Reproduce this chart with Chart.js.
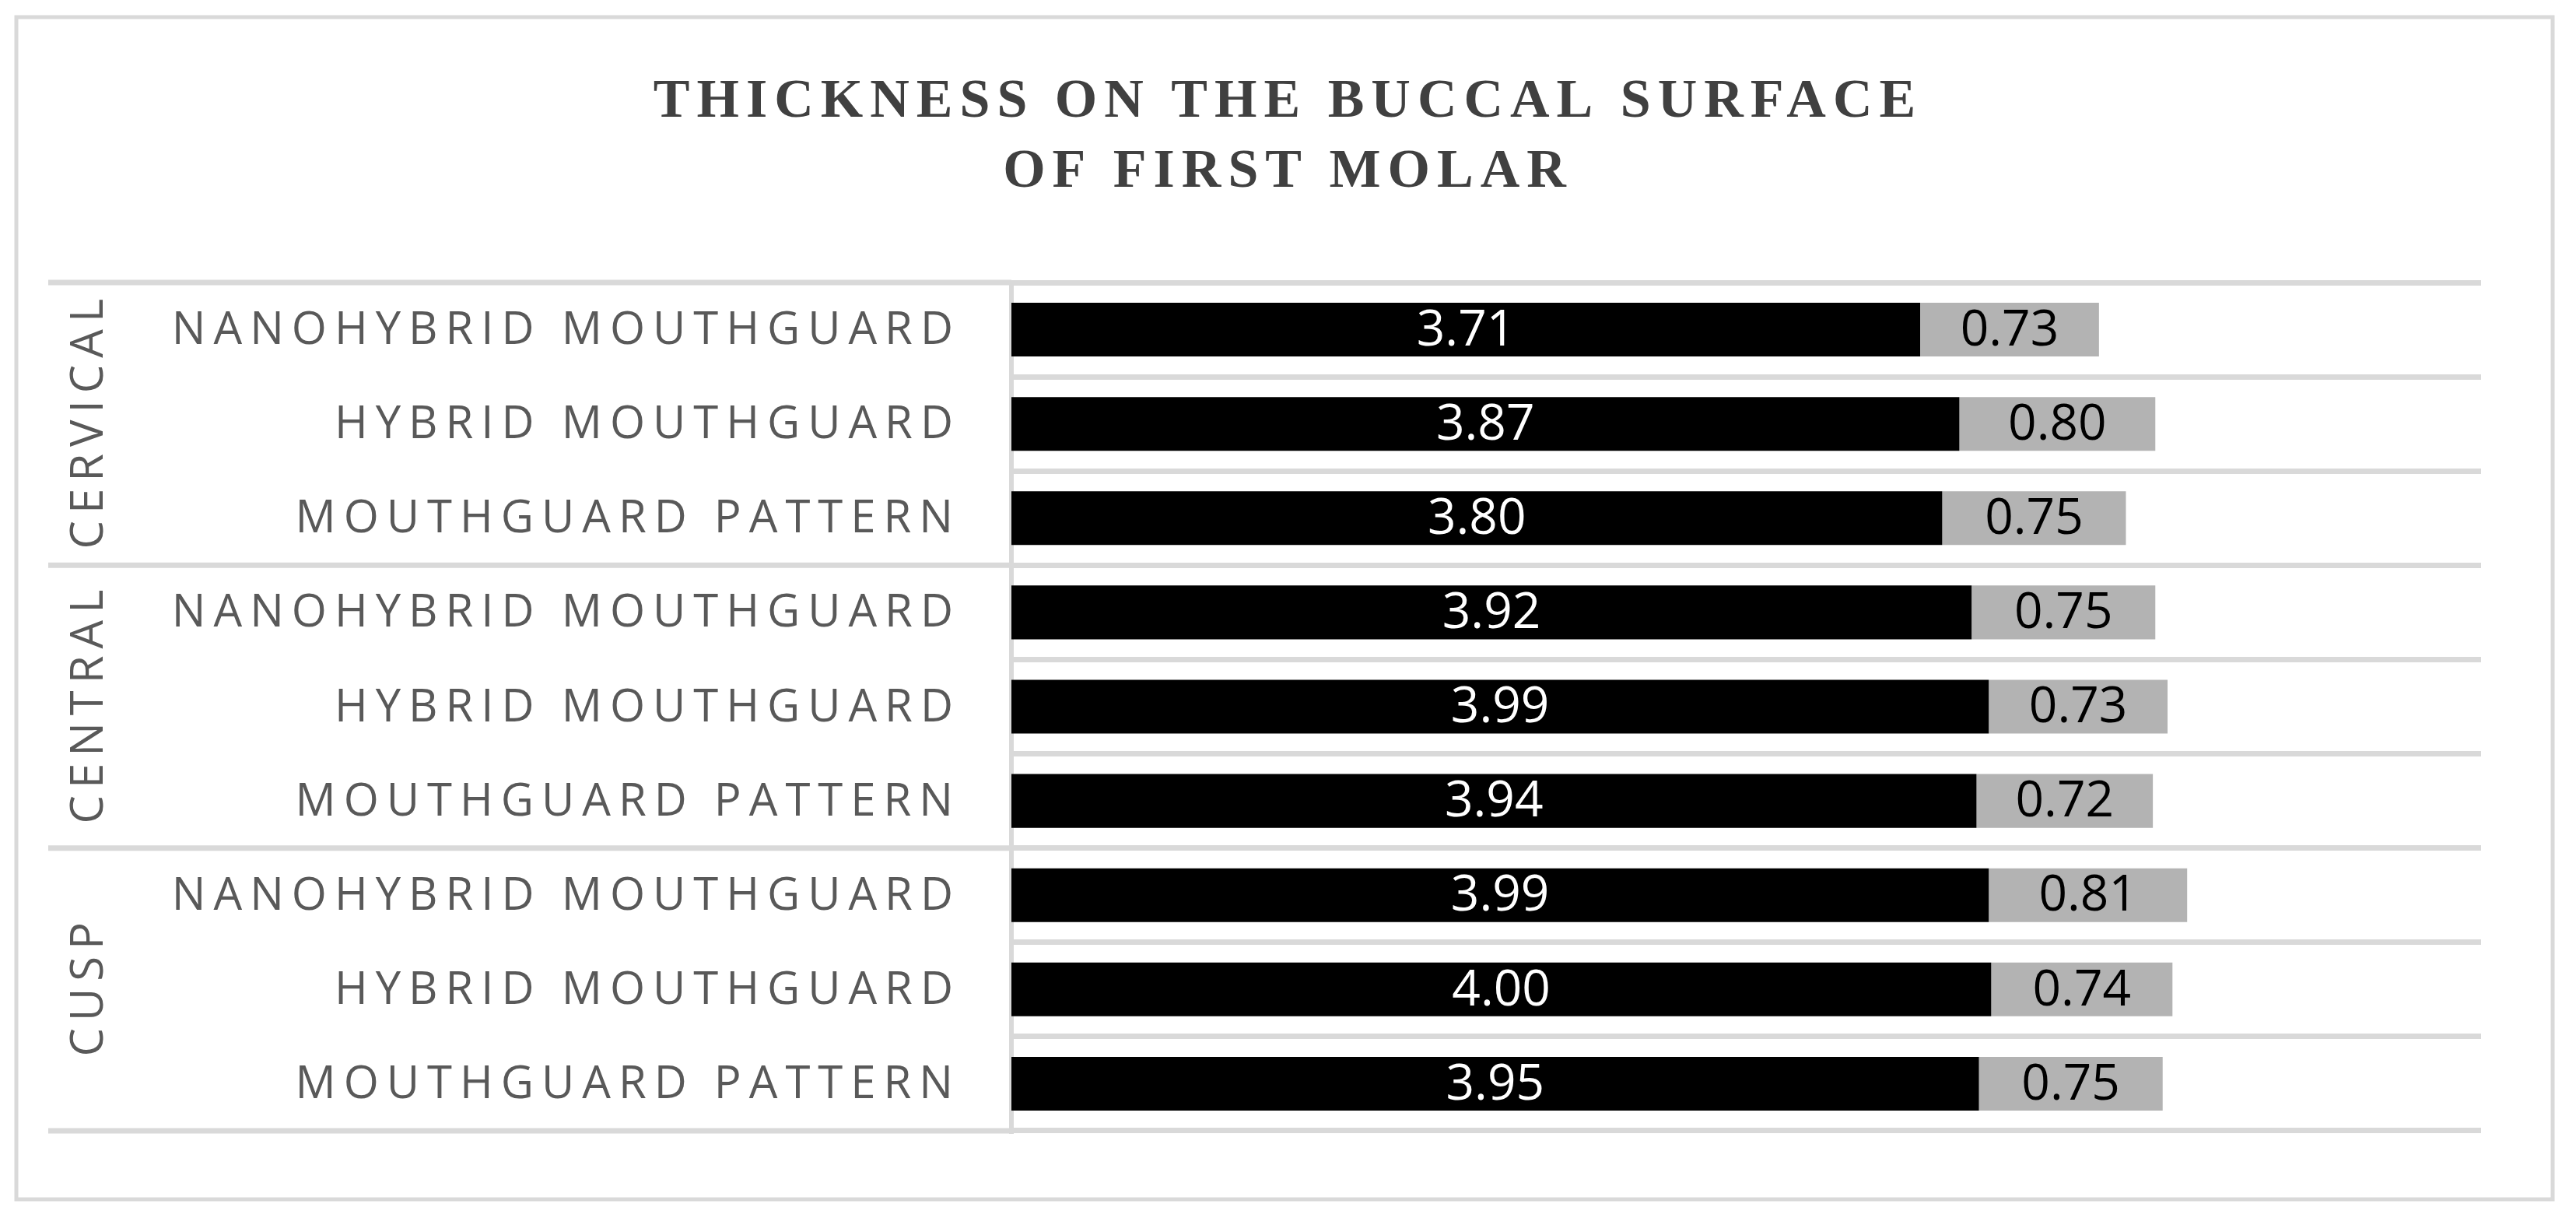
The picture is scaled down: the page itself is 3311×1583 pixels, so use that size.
<!DOCTYPE html>
<html>
<head>
<meta charset="utf-8">
<script src="https://cdn.jsdelivr.net/npm/chart.js@4.4.1/dist/chart.umd.min.js"></script>
<style>
  html, body { margin: 0; padding: 0; background: #fff; }
  #wrap { width: 3311px; height: 1583px; position: relative; }
</style>
</head>
<body>
<div id="wrap"><canvas id="chart"></canvas></div>
<script>
// ── Data ───────────────────────────────────────
const titleLines = ['THICKNESS ON THE BUCCAL SURFACE', 'OF FIRST MOLAR'];
const groups     = ['CERVICAL', 'CENTRAL', 'CUSP'];
const materials  = ['NANOHYBRID MOUTHGUARD', 'HYBRID MOUTHGUARD', 'MOUTHGUARD PATTERN'];
const labels     = groups.flatMap(() => materials);
const meanValues = [3.71, 3.87, 3.80, 3.92, 3.99, 3.94, 3.99, 4.00, 3.95];
const sdValues   = [0.73, 0.80, 0.75, 0.75, 0.73, 0.72, 0.81, 0.74, 0.75];

const GRID  = '#d9d9d9';
const LABEL = '#595959';

// ── Frame, title, labels, group lines ──────────
const decorPlugin = {
  id: 'decor',
  beforeDraw(chart) {
    const ctx = chart.ctx;
    ctx.save();
    ctx.fillStyle = '#fff';
    ctx.fillRect(0, 0, chart.width, chart.height);
    ctx.strokeStyle = GRID;
    ctx.lineWidth = 5;
    ctx.strokeRect(21, 22, 3260, 1519);
    ctx.restore();
  },
  afterDraw(chart) {
    const ctx = chart.ctx;
    const y   = chart.scales.y;
    const area = chart.chartArea;
    ctx.save();

    // title
    ctx.fillStyle = '#404040';
    ctx.font = 'bold 70px "Liberation Serif"';
    ctx.letterSpacing = '9px';
    ctx.textAlign = 'center';
    ctx.textBaseline = 'alphabetic';
    titleLines.forEach((t, i) => ctx.fillText(t, 1651 + 4.5, 150 + i * 90));

    // group separator lines, extended to the left edge
    ctx.strokeStyle = GRID;
    ctx.lineWidth = 7;
    for (let g = 0; g <= groups.length; g++) {
      const py = y.getPixelForValue(g * materials.length - 0.5);
      ctx.beginPath();
      ctx.moveTo(62, py);
      ctx.lineTo(area.left, py);
      ctx.stroke();
    }

    // category labels
    ctx.fillStyle = LABEL;
    ctx.font = '58px "Open Sans"';
    ctx.letterSpacing = '10px';
    ctx.textAlign = 'right';
    ctx.textBaseline = 'middle';
    labels.forEach((l, i) => ctx.fillText(l, 1225 + 10, y.getPixelForValue(i) + 2));

    // group labels, rotated
    ctx.letterSpacing = '9px';
    groups.forEach((g, i) => {
      const a = y.getPixelForValue(i * materials.length - 0.5);
      const b = y.getPixelForValue((i + 1) * materials.length - 0.5);
      ctx.save();
      ctx.translate(113, (a + b) / 2);
      ctx.rotate(-Math.PI / 2);
      ctx.textAlign = 'center';
      ctx.fillText(g, 4.5, 2);
      ctx.restore();
    });
    ctx.restore();
  }
};

// ── Value labels inside bars ───────────────────
const valuePlugin = {
  id: 'values',
  afterDatasetsDraw(chart) {
    const ctx = chart.ctx;
    ctx.save();
    ctx.font = '64px "Open Sans"';
    ctx.textAlign = 'center';
    ctx.textBaseline = 'middle';
    chart.data.datasets.forEach((ds, di) => {
      chart.getDatasetMeta(di).data.forEach((bar, i) => {
        const p = bar.getProps(['x', 'y', 'base'], true);
        ctx.fillStyle = ds.labelColor;
        ctx.fillText(ds.data[i].toFixed(2), (p.x + p.base) / 2, p.y + 2);
      });
    });
    ctx.restore();
  }
};

new Chart(document.getElementById('chart'), {
  type: 'bar',
  data: {
    labels: labels,
    datasets: [
      { label: 'Mean', data: meanValues, backgroundColor: '#000000', labelColor: '#ffffff' },
      { label: 'SD',   data: sdValues,   backgroundColor: '#b3b3b3', labelColor: '#000000' }
    ]
  },
  options: {
    indexAxis: 'y',
    responsive: true,
    maintainAspectRatio: false,
    devicePixelRatio: 1,
    animation: false,
    layout: { padding: { left: 1300, right: 122, top: 363, bottom: 130 } },
    datasets: { bar: { barPercentage: 0.57, categoryPercentage: 1, borderWidth: 0 } },
    plugins: { legend: { display: false }, tooltip: { enabled: false }, title: { display: false } },
    scales: {
      x: { stacked: true, min: 0, max: 6, display: false },
      y: {
        stacked: true,
        offset: true,
        ticks: { display: false },
        grid: { offset: true, color: GRID, lineWidth: 7, drawTicks: false },
        border: { display: true, color: GRID, width: 6 }
      }
    }
  },
  plugins: [decorPlugin, valuePlugin]
});
</script>
</body>
</html>
